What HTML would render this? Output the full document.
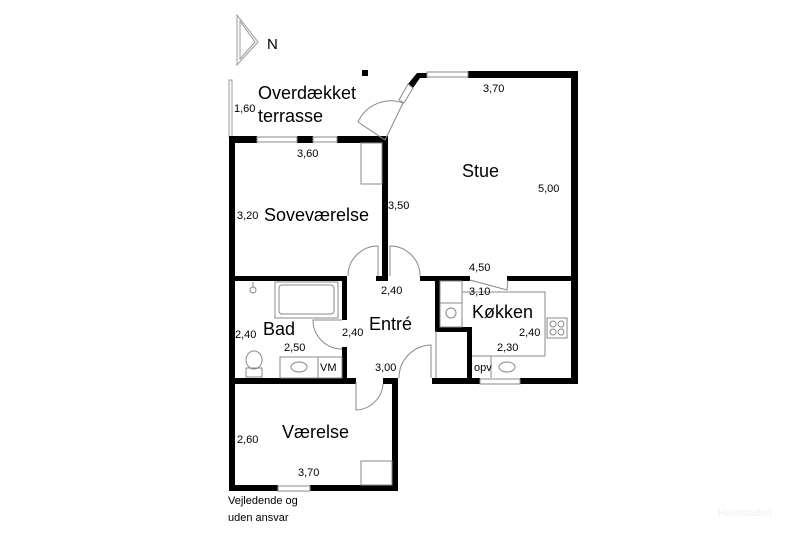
<!DOCTYPE html>
<html><head><meta charset="utf-8"><style>
html,body{margin:0;padding:0;background:#fff;width:800px;height:533px;overflow:hidden}
svg{display:block}
text{font-family:"Liberation Sans",sans-serif;fill:#000}
.s{font-size:11px}.l{font-size:18px}
</style></head><body>
<svg width="800" height="533" viewBox="0 0 800 533">
<polygon points="237,15 258,42 237,65" fill="none" stroke="#999" stroke-width="1"/>
<polygon points="240,21 255,42 240,59" fill="none" stroke="#999" stroke-width="1"/>
<text x="267" y="49" style="font-size:15px">N</text>
<rect x="362" y="70" width="6" height="6" fill="#000"/>
<rect x="229" y="80" width="3" height="57" fill="none" stroke="#999" stroke-width="1"/>
<g fill="#000">
<rect x="229" y="136" width="28" height="7"/>
<rect x="297" y="136" width="16" height="7"/>
<rect x="337" y="136" width="51" height="7"/>
<rect x="229" y="136" width="6" height="355"/>
<rect x="468" y="71" width="110" height="7"/>
<polygon points="417,73 427,73 427,78 420,78 413,88 408,84"/>
<polygon points="382,137 388,137 388,143 385,146 380,140"/>
<rect x="571" y="71" width="7" height="313"/>
<rect x="382" y="137" width="6" height="144"/>
<rect x="229" y="276" width="118" height="5"/>
<rect x="376" y="276" width="12" height="5"/>
<rect x="420" y="276" width="50" height="5"/>
<rect x="507" y="276" width="71" height="5"/>
<rect x="342" y="276" width="5" height="44"/>
<rect x="342" y="347" width="5" height="37"/>
<rect x="229" y="378" width="127" height="6"/>
<rect x="383" y="378" width="15" height="6"/>
<rect x="392" y="378" width="6" height="113"/>
<rect x="229" y="485" width="49" height="6"/>
<rect x="310" y="485" width="88" height="6"/>
<rect x="435" y="276" width="5" height="55"/>
<rect x="435" y="327" width="36" height="5"/>
<rect x="467" y="327" width="5" height="57"/>
<rect x="432" y="378" width="48" height="6"/>
<rect x="520" y="378" width="58" height="6"/>
</g>
<g fill="none" stroke="#888" stroke-width="1">
<rect x="257" y="137" width="40" height="5"/><rect x="313" y="137" width="24" height="5"/>
<rect x="427" y="72" width="41" height="5"/>
<rect x="278" y="486" width="32" height="5"/>
<rect x="480" y="379" width="40" height="5"/>
<polygon points="408,84 413,88 404,103 399,100"/>
<path d="M385,140 L358,122 A36,36 0 0 1 403,103 L385,140"/>
<rect x="361" y="143" width="21" height="41"/>
<path d="M348,276 A30,30 0 0 1 378,246 L378,276"/>
<path d="M390,276 L390,246 A30,30 0 0 1 420,276"/>
<path d="M470,280 L507,290 L508,280"/>
<path d="M342,320 L313,320 A29,29 0 0 0 342,349"/>
<path d="M356,382 L356,410 A28,28 0 0 0 383,384"/>
<path d="M431,378 L431,345 A33,33 0 0 0 399,378"/>
<line x1="436" y1="331" x2="436" y2="378"/>
<rect x="275" y="282" width="63" height="36"/>
<rect x="279" y="285" width="55" height="29" rx="3"/>
<circle cx="253" cy="290" r="3"/>
<line x1="253" y1="282" x2="253" y2="287"/>
<rect x="280" y="357" width="62" height="21"/>
<line x1="318" y1="357" x2="318" y2="378"/>
<ellipse cx="299" cy="367" rx="8" ry="5"/>
<ellipse cx="254" cy="360" rx="8" ry="9"/>
<rect x="246" y="368" width="16" height="9"/>
<rect x="361" y="461" width="31" height="24"/>
<rect x="440" y="281" width="22" height="46"/>
<line x1="440" y1="303" x2="462" y2="303"/>
<circle cx="451" cy="313" r="5"/>
<polyline points="462,281 462,292 545,292 545,356"/>
<polyline points="472,356 545,356"/>
<rect x="547" y="318" width="20" height="20"/>
<circle cx="553" cy="324" r="3"/><circle cx="561" cy="324" r="3"/><circle cx="553" cy="332" r="3"/><circle cx="561" cy="332" r="3"/>
<line x1="491" y1="356" x2="491" y2="378"/>
<ellipse cx="507" cy="367" rx="8" ry="5"/>
</g>
<text class="l" x="258" y="99">Overdækket</text>
<text class="l" x="258" y="122">terrasse</text>
<text class="s" x="234" y="112">1,60</text>
<text class="s" x="297" y="157">3,60</text>
<text class="s" x="483" y="92">3,70</text>
<text class="l" x="462" y="177">Stue</text>
<text class="s" x="538" y="192">5,00</text>
<text class="s" x="388" y="209">3,50</text>
<text class="l" x="264" y="221">Soveværelse</text>
<text class="s" x="237" y="219">3,20</text>
<text class="s" x="469" y="271">4,50</text>
<text class="s" x="381" y="294">2,40</text>
<text class="s" x="469" y="295">3,10</text>
<text class="l" x="472" y="318">Køkken</text>
<text class="s" x="519" y="336">2,40</text>
<text class="s" x="497" y="351">2,30</text>
<text class="l" x="263" y="335">Bad</text>
<text class="l" x="369" y="330">Entré</text>
<text class="s" x="235" y="338">2,40</text>
<text class="s" x="342" y="336">2,40</text>
<text class="s" x="284" y="351">2,50</text>
<text class="s" x="320" y="371">VM</text>
<text class="s" x="474" y="371">opv</text>
<text class="s" x="375" y="371">3,00</text>
<text class="l" x="282" y="438">Værelse</text>
<text class="s" x="237" y="443">2,60</text>
<text class="s" x="298" y="476">3,70</text>
<text class="s" x="228" y="504">Vejledende og</text>
<text class="s" x="228" y="521">uden ansvar</text>
<text x="718" y="516" style="font-size:10px;fill:#eee">Heimstaden</text>
</svg>
</body></html>
